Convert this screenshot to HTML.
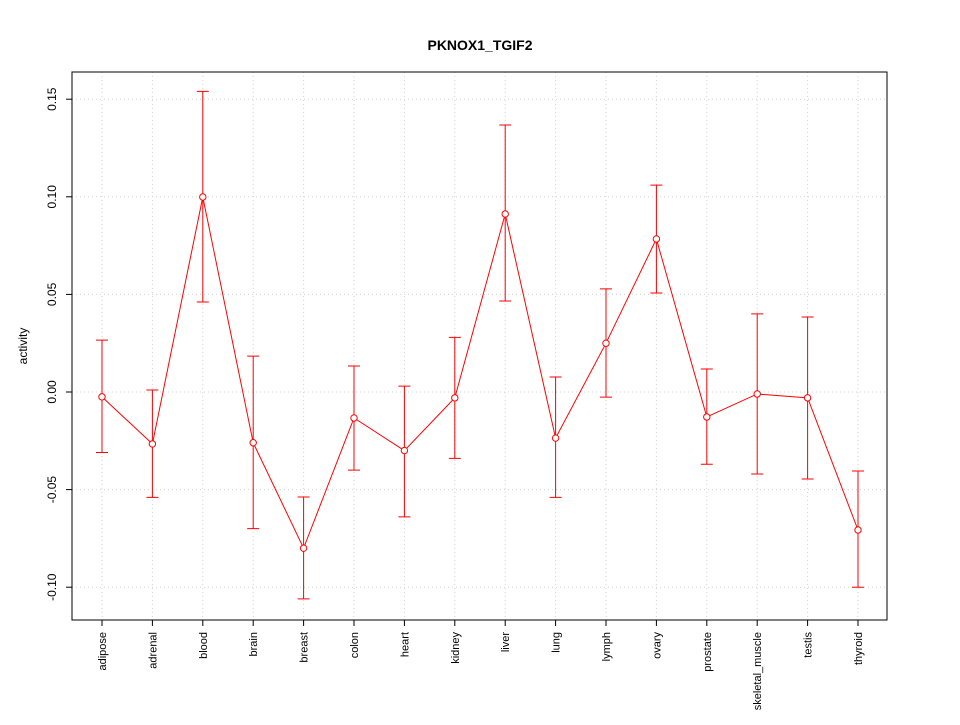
<!DOCTYPE html>
<html><head><meta charset="utf-8"><style>
body{margin:0;background:#fff}
svg text{font-family:"Liberation Sans",sans-serif}
</style></head><body>
<svg id="chart" width="960" height="720" xmlns="http://www.w3.org/2000/svg">
<rect width="960" height="720" fill="#fff"/>
<text x="480" y="50" text-anchor="middle" font-size="14" font-weight="bold">PKNOX1_TGIF2</text>
<text transform="translate(27,346) rotate(-90)" text-anchor="middle" font-size="12">activity</text>
<g id="grid"></g><g id="axes"></g><g id="series"></g>
<rect x="72" y="72" width="815" height="548" fill="none" stroke="#000"/>
</svg>
<script>
const categories=["adipose","adrenal","blood","brain","breast","colon","heart","kidney","liver","lung","lymph","ovary","prostate","skeletal_muscle","testis","thyroid"];
const values=[-0.0025,-0.0266,0.0999,-0.026,-0.080,-0.0133,-0.030,-0.003,0.0912,-0.0236,0.025,0.0784,-0.0128,-0.001,-0.003,-0.0707];
const upper=[0.0266,0.001,0.154,0.0184,-0.0538,0.0133,0.003,0.028,0.1368,0.0077,0.0528,0.106,0.0118,0.040,0.0384,-0.0405];
const lower=[-0.031,-0.054,0.0461,-0.070,-0.106,-0.040,-0.064,-0.034,0.0466,-0.054,-0.0026,0.0507,-0.037,-0.042,-0.0446,-0.100];
const yTicks=[-0.10,-0.05,0.00,0.05,0.10,0.15];
const yTickLabels=["-0.10","-0.05","0.00","0.05","0.10","0.15"];
const NS="http://www.w3.org/2000/svg";
const y=v=>392-v*1952;
const x=i=>102+i*50.4;
function mk(tag,attrs,parent,text){const e=document.createElementNS(NS,tag);for(const k in attrs)e.setAttribute(k,attrs[k]);if(text!==undefined)e.textContent=text;parent.appendChild(e);return e;}
const grid=document.getElementById('grid'),axes=document.getElementById('axes'),ser=document.getElementById('series');
yTicks.forEach((t,i)=>{
 const g=mk('line',{x1:72,x2:887,y1:y(t),y2:y(t),stroke:'#d3d3d3','stroke-dasharray':'1,3'},grid);
 
 
 const tk=mk('line',{x1:66,x2:72,y1:y(t),y2:y(t),stroke:'#000'},axes);
 
 
 const tl=mk('text',{transform:`translate(56,${y(t)}) rotate(-90)`,'text-anchor':'middle','font-size':'12'},axes,yTickLabels[i]);
 
 
});
categories.forEach((c,i)=>{
 const g=mk('line',{x1:x(i),x2:x(i),y1:72,y2:620,stroke:'#d3d3d3','stroke-dasharray':'1,3'},grid);
 
 
 const tk=mk('line',{x1:x(i),x2:x(i),y1:620,y2:626,stroke:'#000'},axes);
 
 
 const tl=mk('text',{transform:`translate(${x(i)+4},632) rotate(-90)`,'text-anchor':'end','font-size':'11'},axes,c);
 
 
});
const pts=values.map((v,i)=>x(i)+','+y(v)).join(' ');
const pl=mk('polyline',{points:pts,fill:'none',stroke:'#ff0000'},ser);


values.forEach((v,i)=>{
 const e=mk('path',{d:`M${x(i)},${y(upper[i])}V${y(lower[i])}M${x(i)-6},${y(upper[i])}H${x(i)+6}M${x(i)-6},${y(lower[i])}H${x(i)+6}`,stroke:'#ff0000',fill:'none'},ser);
 
 
 const p=mk('circle',{cx:x(i),cy:y(v),r:3.2,fill:'#fff',stroke:'#ff0000'},ser);
 
 
});
</script>
</body></html>
